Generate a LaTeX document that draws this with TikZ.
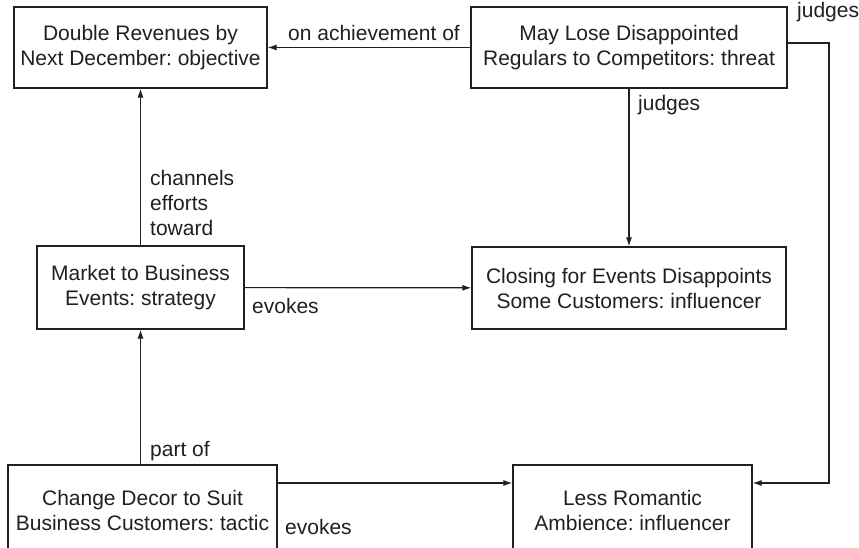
\documentclass[tikz,border=0pt]{standalone}
\usepackage{fontspec}
\setmainfont{Liberation Sans}
\usetikzlibrary{arrows.meta}
\definecolor{ink}{HTML}{231F20}
\frenchspacing
\begin{document}
\begin{tikzpicture}[x=1pt,y=-1pt,
  every node/.style={text=ink,font=\fontsize{21}{25}\selectfont},
  box/.style={draw=ink,line width=1.2pt,align=center,inner sep=0pt},
  lbl/.style={anchor=west,inner sep=0pt,align=left},
  arr/.style={draw=ink,line width=1.2pt,-{Latex[length=9pt,width=6pt]}}]
\useasboundingbox[fill=white] (0,0) rectangle (859,548);

% concept boxes
\node[box,minimum width=253pt,minimum height=81pt] (obj) at (140.5,47.5)
  {Double Revenues by\\Next December: objective};
\node[box,minimum width=316pt,minimum height=81pt] (thr) at (629,47.5)
  {May Lose Disappointed\\Regulars to Competitors: threat};
\node[box,minimum width=207pt,minimum height=83pt] (str) at (140.5,287.5)
  {Market to Business\\Events: strategy};
\node[box,minimum width=314pt,minimum height=82pt] (inf1) at (629,288)
  {Closing for Events Disappoints\\Some Customers: influencer};
\node[box,minimum width=269pt,minimum height=90pt] (tac) at (142.5,510)
  {Change Decor to Suit\\Business Customers: tactic};
\node[box,minimum width=239pt,minimum height=90pt] (inf2) at (632.5,510)
  {Less Romantic\\Ambience: influencer};

\coordinate (jr) at (829,483);

% connectors
\draw[arr] (thr) -- (obj);
\draw[arr] (str) -- (obj);
\draw[arr] (thr) -- (inf1);
\draw[arr] (str) -- (inf1);
\draw[arr] (tac.north -| str.south) -- (str.south);
\draw[arr] (tac.east |- jr) -- (inf2.west |- jr);
\draw[arr] ([yshift=4.5pt]thr.east) -| (jr) -- (inf2.east |- jr);

% connector labels
\node[lbl] (l1) at (288,33) {on achievement of};
\node[lbl] (l2) at (797,12) {judges};
\node[lbl] (l3) at (638,105) {judges};
\node[lbl] (l4) at (150,203) {channels\\efforts\\toward};
\node[lbl] (l5) at (252,306) {evokes};
\node[lbl] (l6) at (150,451) {part of};
\node[lbl] (l7) at (285,527) {evokes};
\end{tikzpicture}
\end{document}
